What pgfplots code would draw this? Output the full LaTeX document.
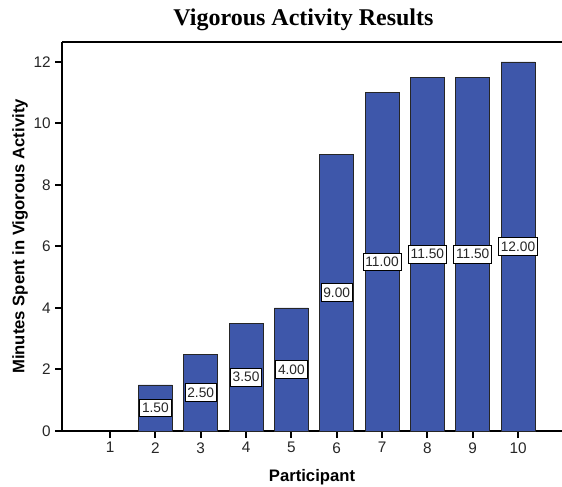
\documentclass[border=0pt]{standalone}
\usepackage{fontspec}
\setmainfont{Liberation Sans}
\newfontfamily\timesfont{Liberation Serif}
\usepackage{pgfplots}
\usepackage{pgfplotstable}
\pgfplotsset{compat=1.18}
\definecolor{barblue}{HTML}{3E57AA}
\pgfplotstableread{
p v
1 0
2 1.5
3 2.5
4 3.5
5 4
6 9
7 11
8 11.5
9 11.5
10 12
}\datatable
\begin{document}
\begin{tikzpicture}
\begin{axis}[
  scale only axis,
  width=375pt, height=291.75pt,
  xmin=-0.06, xmax=10.97, ymin=0, ymax=12.65,
  axis x line*=bottom, axis y line*=left,
  axis line style={line width=0.9pt, -},
  xtick={1,...,10}, ytick={0,2,...,12},
  tick style={line width=1.5pt, black},
  major tick length=5pt,
  tick align=outside,
  /pgf/number format/assume math mode=true,
  ticklabel style={font=\fontsize{11.5}{13}\selectfont, text=black!85},
  xlabel={\textbf{Participant}},
  ylabel={\textbf{Minutes Spent in Vigorous Activity}},
  label style={font=\fontsize{12.5}{14}\selectfont},
  xlabel style={at={(0.5,0)}, anchor=center, yshift=-34.5pt},
  ylabel style={at={(0,0.5)}, anchor=center, yshift=31.5pt},
  clip=false,
]
\addplot[ybar, bar width=0.75, fill=barblue, draw=black!85, line width=0.5pt] table[x=p, y=v] {\datatable};
\addplot[only marks, mark=none, restrict y to domain=0.01:100,
  point meta=explicit,
  nodes near coords={\pgfmathprintnumber[fixed,zerofill,precision=2]{\pgfplotspointmeta}},
  every node near coord/.append style={anchor=center, draw=black, fill=white, inner xsep=1.8pt, inner ysep=3pt, line width=0.5pt, font=\fontsize{10.3}{11}\selectfont, text=black!85}]
  table[x=p, y expr=\thisrow{v}/2, meta=v] {\datatable};
\draw[line width=0.9pt] (rel axis cs:0,1) -- (rel axis cs:1,1);
\draw[line width=1.3pt] (axis cs:0.625,0) -- (axis cs:1.375,0);
\end{axis}
\node[font=\timesfont\bfseries\fontsize{18}{21}\selectfont, anchor=center] at ([xshift=-6.4pt, yshift=16.5pt]current axis.north) {Vigorous Activity Results};
\pgfresetboundingbox
\path ([xshift=-46.5pt, yshift=-42pt]current axis.south west) rectangle ([yshift=31.5pt]current axis.north east);
\end{tikzpicture}
\end{document}
